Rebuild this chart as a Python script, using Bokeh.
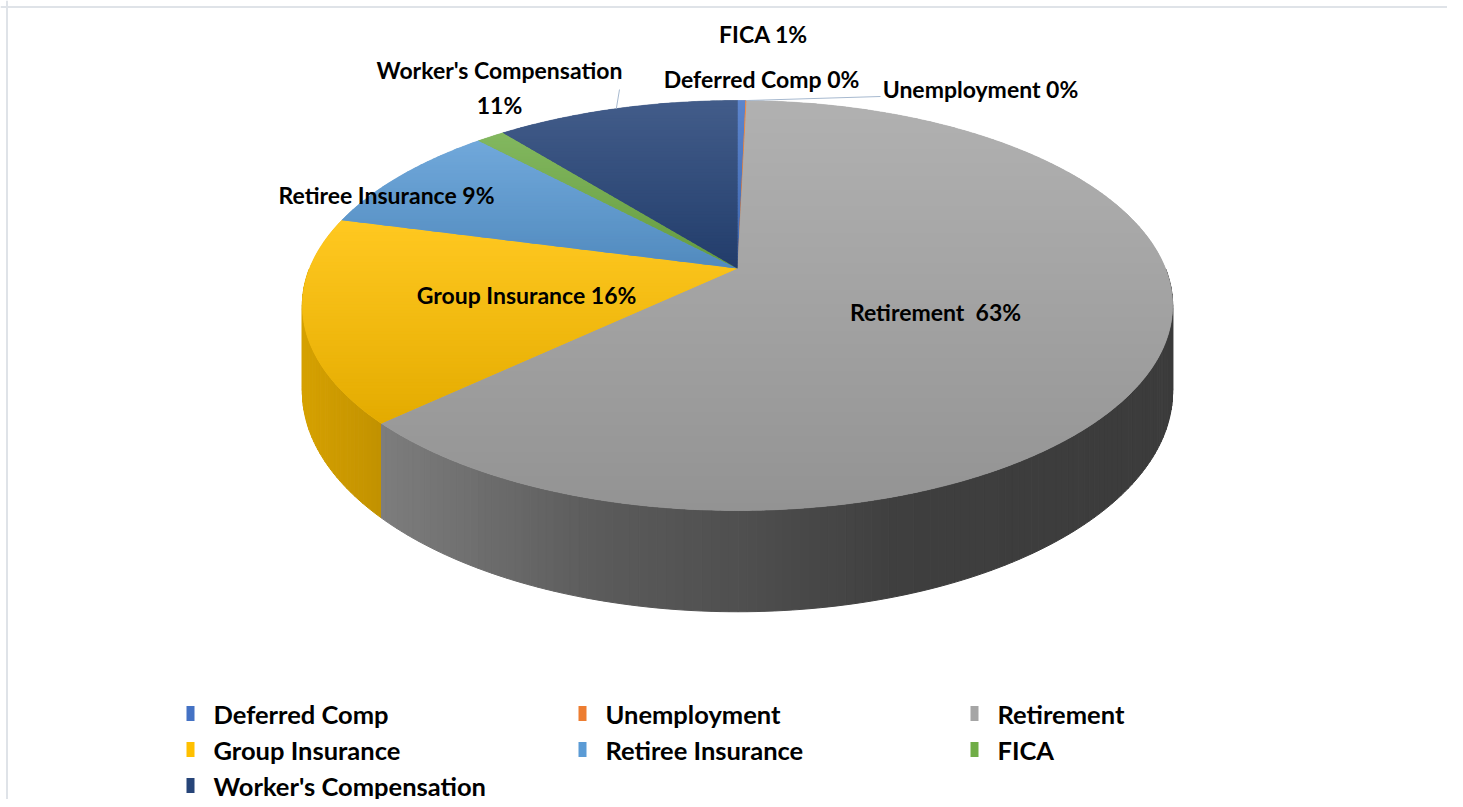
import math
import numpy as np
from bokeh.plotting import figure
from bokeh.models import Range1d, ColumnDataSource, Span
from bokeh.core.properties import value
from bokeh.embed import file_html
from bokeh.resources import INLINE

# ---------------- data ----------------
categories = ["Deferred Comp", "Unemployment", "Retirement", "Group Insurance",
              "Retiree Insurance", "FICA", "Worker's Compensation"]
shares = [0.35, 0.05, 62.6, 16.1, 8.9, 1.25, 10.75]          # percent of total
colors = ["#4472C4", "#ED7D31", "#A5A5A5", "#FFC000", "#5B9BD5", "#70AD47", "#264478"]
label_sep = [" ", " ", "\u00a0 ", " ", " ", " ", "\n"]

# ---------------- layout / style ----------------
W, H = 1447, 799
CX, CY = 737.0, 268.0          # projected pie centre (picture px)
RA, RB, K, DEPTH = 428.0, 198.3, 0.1805, 83.0
FONT = value("Lato")
label_pos = [(761, 78), (980, 88), (935, 311), (526, 294), (386, 194), (763, 33), (499, 87)]
leader_end = {1: (880, 96), 6: (619, 89)}
LEG_X0, LEG_DX, LEG_Y0, LEG_DY = 190, 392, 713, 36


def hex2rgb(h):
    h = h.lstrip("#")
    return np.array([int(h[i:i + 2], 16) for i in (0, 2, 4)], dtype=float)


def rgb2hex(c):
    c = np.clip(np.round(c), 0, 255).astype(int)
    return "#%02x%02x%02x" % tuple(c)


def proj(theta, drop=0.0):
    cx = np.sin(theta)
    cy = -np.cos(theta)
    w = 1.0 - K * cy
    return CX + RA * cx / w, CY + RB * cy / w + drop * DEPTH / w


def clip_band(pts, y0, y1):
    def clip(points, inside, yc):
        out = []
        n = len(points)
        for i in range(n):
            cur, prev = points[i], points[i - 1]

            def inter(a, b):
                t = (yc - a[1]) / (b[1] - a[1])
                return (a[0] + t * (b[0] - a[0]), yc)
            if inside(cur):
                if not inside(prev):
                    out.append(inter(prev, cur))
                out.append(cur)
            elif inside(prev):
                out.append(inter(prev, cur))
        return out
    pts = clip(pts, lambda q: q[1] >= y0, y0)
    if len(pts) < 3:
        return None
    pts = clip(pts, lambda q: q[1] <= y1, y1)
    if len(pts) < 3:
        return None
    return pts


total = float(sum(shares))
edges = np.concatenate([[0.0], np.cumsum(shares)]) / total * 2 * np.pi

p = figure(width=W, height=H, x_range=Range1d(0, W), y_range=Range1d(H, 0),
           output_backend="svg", toolbar_location=None,
           x_axis_location=None, y_axis_location=None,
           min_border=0, min_border_left=0, min_border_right=0,
           min_border_top=0, min_border_bottom=0)
p.grid.visible = False
p.outline_line_color = None
p.background_fill_color = "white"
p.border_fill_color = "white"

# chart-area border (top & left visible)
p.add_layout(Span(location=6.5, dimension="width", line_color="#dfe3e8", line_width=2))
p.add_layout(Span(location=6.5, dimension="height", line_color="#dfe3e8", line_width=2))

# ---------------- side walls ----------------
shade_x = [300, 390, 600, 737, 900, 1175]
shade_f = [0.84, 0.75, 0.55, 0.48, 0.38, 0.36]
side = []
for i, c in enumerate(colors):
    a0, a1 = edges[i], edges[i + 1]
    n = max(1, int(math.ceil((a1 - a0) / math.radians(1.0))))
    ts = np.linspace(a0, a1, n + 1)
    base = hex2rgb(c)
    for j in range(n):
        tm = 0.5 * (ts[j] + ts[j + 1])
        if -np.cos(tm) < 0.0:
            continue
        x1, y1 = proj(ts[j]); x2, y2 = proj(ts[j + 1])
        x3, y3 = proj(ts[j + 1], 1.0); x4, y4 = proj(ts[j], 1.0)
        xm, _ = proj(tm)
        col = rgb2hex(base * np.interp(xm, shade_x, shade_f))
        side.append((-np.cos(tm), [x1, x2, x3, x4], [y1, y2, y3, y4], col))
side.sort(key=lambda s: s[0])
side_src = ColumnDataSource(dict(xs=[s[1] for s in side], ys=[s[2] for s in side],
                                 c=[s[3] for s in side]))
p.patches("xs", "ys", source=side_src, fill_color="c", line_color="c", line_width=1)

# ---------------- top faces ----------------
ux, uy, uc = [], [], []      # underlay (solid per slice)
bx, by, bc = [], [], []      # gradient bands
for i, c in enumerate(colors):
    a0, a1 = edges[i], edges[i + 1]
    n = max(2, int(math.ceil((a1 - a0) / math.radians(0.5))))
    ts = np.linspace(a0, a1, n + 1)
    ex, ey = proj(ts)
    poly = [(CX, CY)] + list(zip(ex, ey))
    ymin = min(q[1] for q in poly)
    ymax = max(q[1] for q in poly)
    base = hex2rgb(c)

    def shade(t):
        col = base * (1 - 0.11 * t)
        wmix = 0.13 * (1 - t)
        return col * (1 - wmix) + 255 * wmix

    ux.append([q[0] for q in poly]); uy.append([q[1] for q in poly])
    uc.append(rgb2hex(shade(0.5)))
    step = 3.0
    yb = ymin
    while yb < ymax:
        seg = clip_band(poly, yb, min(yb + step + 0.8, ymax))
        if seg is not None:
            t = ((yb + step / 2) - ymin) / max(ymax - ymin, 1e-6)
            t = min(max(t, 0), 1)
            bx.append([q[0] for q in seg]); by.append([q[1] for q in seg])
            bc.append(rgb2hex(shade(t)))
        yb += step
p.patches(ux, uy, fill_color=uc, line_color=uc, line_width=0.5)
top_src = ColumnDataSource(dict(xs=bx, ys=by, c=bc))
p.patches("xs", "ys", source=top_src, fill_color="c", line_color=None)

# ---------------- leader lines ----------------
lx, ly = [], []
for i, (ex_, ey_) in leader_end.items():
    mid = 0.5 * (edges[i] + edges[i + 1])
    sx, sy = proj(mid)
    lx.append([float(sx), ex_]); ly.append([float(sy), ey_])
p.multi_line(lx, ly, line_color="#a7b9cf", line_width=1)

# ---------------- data labels ----------------
texts = [f"{cat}{sep}{round(v)}%" for cat, sep, v in zip(categories, label_sep, shares)]
p.text(x=[q[0] for q in label_pos], y=[q[1] for q in label_pos], text=texts,
       text_font=FONT, text_font_style="bold", text_font_size="23px",
       text_align="center", text_baseline="middle", text_color="#000000",
       text_line_height=1.25)

# ---------------- legend ----------------
gx = [LEG_X0 + (i % 3) * LEG_DX for i in range(len(categories))]
gy = [LEG_Y0 + (i // 3) * LEG_DY for i in range(len(categories))]
p.rect(x=gx, y=gy, width=8, height=15, fill_color=colors, line_color=None)
p.text(x=[g + 23 for g in gx], y=gy, text=categories,
       text_font=FONT, text_font_style="bold", text_font_size="25.5px",
       text_align="left", text_baseline="middle", text_color="#000000")

open("out.html", "w").write(file_html(p, INLINE))
